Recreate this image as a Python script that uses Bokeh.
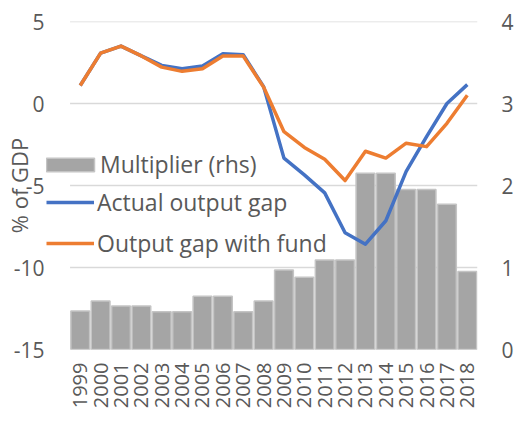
import math
from bokeh.plotting import figure
from bokeh.models import (Range1d, LinearAxis, FixedTicker, Legend, LegendItem)
from bokeh.embed import file_html
from bokeh.resources import INLINE

years = [str(y) for y in range(1999, 2019)]
multiplier = [0.47, 0.59, 0.53, 0.53, 0.46, 0.46, 0.65, 0.65, 0.46, 0.59,
              0.97, 0.88, 1.09, 1.09, 2.15, 2.15, 1.95, 1.95, 1.77, 0.95]
actual_gap = [1.1, 3.07, 3.5, 2.9, 2.32, 2.12, 2.28, 3.03, 2.97, 1.03,
              -3.33, -4.35, -5.45, -7.88, -8.58, -7.15, -4.14, -2.02, 0.0, 1.15]
gap_with_fund = [1.1, 3.07, 3.5, 2.9, 2.22, 1.96, 2.12, 2.89, 2.89, 1.0,
                 -1.72, -2.68, -3.4, -4.7, -2.91, -3.33, -2.42, -2.63, -1.21, 0.5]
left_ticks = [-15, -10, -5, 0, 5]
left_labels = {-15: "-15", -10: "-10", -5: "-5", 0: "0", 5: "5"}
right_ticks = [0, 1, 2, 3, 4]

FONT = "Open Sans"
TXT = "#595959"

n = len(years)
xpos = list(range(n))
year_labels = {i: y for i, y in enumerate(years)}

# extra room on the left of the categories so the legend can start left of them
x_start = -0.5 - 24 / 20.75
p = figure(x_range=Range1d(x_start, n - 0.5), y_range=Range1d(-15, 5),
           width=516, height=415, output_backend="svg", toolbar_location=None,
           min_border_left=39, min_border_right=38, min_border_top=21, min_border_bottom=66)
p.outline_line_color = None
p.background_fill_color = "white"
p.extra_y_ranges = {"rhs": Range1d(0, 4)}

# gridlines spanning only the category area
p.segment(x0=-0.5, x1=n - 0.5, y0=left_ticks, y1=left_ticks,
          line_color="#D9D9D9", line_width=1.5, level="underlay")

bars = p.vbar(x=xpos, top=multiplier, bottom=0, width=0.92, y_range_name="rhs",
              fill_color="#A5A5A5", line_color="#C4C4C4", line_width=1.5)
l1 = p.line(xpos, actual_gap, line_color="#4472C4", line_width=3.5, line_join="round")
l2 = p.line(xpos, gap_with_fund, line_color="#ED7D31", line_width=3.5, line_join="round")

# left axis
ya = p.yaxis[0]
ya.ticker = FixedTicker(ticks=left_ticks)
ya.major_label_overrides = left_labels
ya.axis_line_color = None
ya.major_tick_out = 0
ya.major_tick_in = 0
ya.minor_tick_out = 0
ya.minor_tick_in = 0
ya.major_label_text_font = FONT
ya.major_label_text_font_size = "21px"
ya.major_label_text_color = TXT
ya.major_label_text_align = "right"
ya.major_label_standoff = 2
ya.axis_label = "% of GDP"
ya.axis_label_text_font = FONT
ya.axis_label_text_font_size = "22px"
ya.axis_label_text_font_style = "normal"
ya.axis_label_text_color = TXT
ya.axis_label_standoff = -23

# right axis
ra = LinearAxis(y_range_name="rhs", ticker=FixedTicker(ticks=right_ticks))
ra.axis_line_color = None
ra.major_tick_out = 0
ra.major_tick_in = 0
ra.minor_tick_out = 0
ra.minor_tick_in = 0
ra.major_label_text_font = FONT
ra.major_label_text_font_size = "21px"
ra.major_label_text_color = TXT
ra.major_label_standoff = 24
p.add_layout(ra, "right")

# x axis
xa = p.xaxis[0]
xa.ticker = FixedTicker(ticks=xpos)
xa.major_label_overrides = year_labels
xa.axis_line_color = None
xa.major_tick_out = 0
xa.major_tick_in = 0
xa.minor_tick_out = 0
xa.minor_tick_in = 0
xa.major_label_orientation = math.pi / 2
xa.major_label_text_font = FONT
xa.major_label_text_font_size = "20px"
xa.major_label_text_color = TXT
xa.major_label_standoff = 13

p.xgrid.grid_line_color = None
p.ygrid.grid_line_color = None

leg_bar = Legend(items=[LegendItem(label="Multiplier (rhs)", renderers=[bars])],
                 location=(-6, 169), glyph_width=60, glyph_height=17, label_height=17,
                 label_standoff=-3, padding=0, margin=0, spacing=0,
                 border_line_color=None, background_fill_alpha=0,
                 label_text_font=FONT, label_text_font_size="23px", label_text_color=TXT)
leg_lines = Legend(items=[LegendItem(label="Actual output gap", renderers=[l1]),
                          LegendItem(label="Output gap with fund", renderers=[l2])],
                   location=(0, 90), glyph_width=48, glyph_height=24, label_height=24,
                   label_standoff=3, padding=0, margin=0, spacing=9,
                   border_line_color=None, background_fill_alpha=0,
                   label_text_font=FONT, label_text_font_size="23px", label_text_color=TXT)
p.add_layout(leg_bar, "center")
p.add_layout(leg_lines, "center")

open("out.html", "w").write(file_html(p, INLINE))
